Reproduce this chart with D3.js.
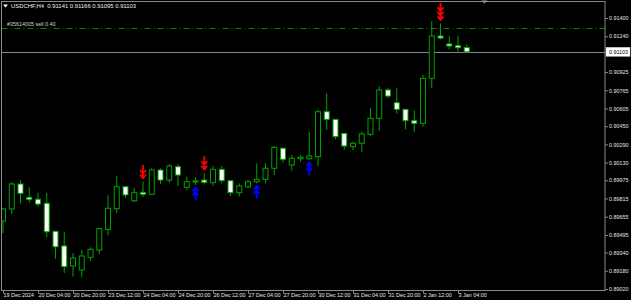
<!DOCTYPE html>
<html>
<head>
<meta charset="utf-8">
<script src="https://cdn.jsdelivr.net/npm/d3@7"></script>
<style>
  html, body { margin: 0; padding: 0; background: #000; }
  svg { display: block; }
  text { font-family: "Liberation Sans", Arial, sans-serif; white-space: pre; }
</style>
</head>
<body>
<svg id="chart" width="631" height="300"></svg>
<script>
const times = ["19 Dec 12:00","19 Dec 16:00","19 Dec 20:00",
  "20 Dec 00:00","20 Dec 04:00","20 Dec 08:00","20 Dec 12:00","20 Dec 16:00","20 Dec 20:00",
  "23 Dec 00:00","23 Dec 04:00","23 Dec 08:00","23 Dec 12:00","23 Dec 16:00","23 Dec 20:00",
  "24 Dec 00:00","24 Dec 04:00","24 Dec 08:00","24 Dec 12:00","24 Dec 16:00","24 Dec 20:00",
  "26 Dec 00:00","26 Dec 04:00","26 Dec 08:00","26 Dec 12:00","26 Dec 16:00","26 Dec 20:00",
  "27 Dec 00:00","27 Dec 04:00","27 Dec 08:00","27 Dec 12:00","27 Dec 16:00","27 Dec 20:00",
  "30 Dec 00:00","30 Dec 04:00","30 Dec 08:00","30 Dec 12:00","30 Dec 16:00","30 Dec 20:00",
  "31 Dec 00:00","31 Dec 04:00","31 Dec 08:00","31 Dec 12:00","31 Dec 16:00","31 Dec 20:00",
  "2 Jan 00:00","2 Jan 04:00","2 Jan 08:00","2 Jan 12:00","2 Jan 16:00","2 Jan 20:00",
  "3 Jan 00:00","3 Jan 04:00","3 Jan 08:00"];

const open = [0.89617,0.89723,0.89942,0.89825,0.89808,0.89773,0.89527,0.89398,0.89222,0.89187,
  0.89298,0.89362,0.89544,0.89725,0.89918,0.89795,0.89869,0.89852,0.90065,0.89977,
  0.90094,0.89913,0.89960,0.89977,0.89954,0.90071,0.89971,0.89866,0.89918,0.89962,
  0.89983,0.90080,0.90256,0.90109,0.90164,0.90164,0.90182,0.90577,0.90510,0.90387,
  0.90270,0.90300,0.90379,0.90519,0.90768,0.90656,0.90598,0.90498,0.90475,0.90870,
  0.91242,0.91172,0.91157,0.91141];
const high = [0.89731,0.89960,0.89977,0.89913,0.89866,0.89866,0.89530,0.89523,0.89334,0.89362,
  0.89386,0.89556,0.89843,0.90012,0.89920,0.89907,0.89964,0.90080,0.90080,0.90118,
  0.90118,0.90006,0.90001,0.90041,0.90100,0.90100,0.89977,0.89948,0.89977,0.90124,
  0.90124,0.90276,0.90264,0.90197,0.90197,0.90401,0.90598,0.90739,0.90513,0.90390,
  0.90314,0.90401,0.90607,0.90803,0.90783,0.90783,0.90600,0.90588,0.90899,0.91374,
  0.91353,0.91245,0.91245,0.91166];
const low = [0.89512,0.89679,0.89773,0.89778,0.89743,0.89474,0.89286,0.89160,0.89128,0.89123,
  0.89269,0.89327,0.89492,0.89690,0.89817,0.89784,0.89828,0.89846,0.89942,0.89954,
  0.89925,0.89889,0.89933,0.89938,0.89925,0.89948,0.89837,0.89831,0.89904,0.89948,
  0.89948,0.90021,0.90129,0.90059,0.90138,0.90153,0.90100,0.90416,0.90335,0.90247,
  0.90241,0.90226,0.90364,0.90410,0.90695,0.90563,0.90423,0.90399,0.90445,0.90783,
  0.91213,0.91125,0.91090,0.91095];
const close = [0.89723,0.89942,0.89860,0.89808,0.89766,0.89523,0.89391,0.89216,0.89292,0.89310,
  0.89369,0.89550,0.89729,0.89918,0.89846,0.89866,0.89852,0.90065,0.89977,0.90100,
  0.90021,0.89962,0.89969,0.89957,0.90071,0.89971,0.89866,0.89925,0.89962,0.89983,
  0.90080,0.90264,0.90159,0.90168,0.90177,0.90188,0.90577,0.90510,0.90358,0.90276,
  0.90300,0.90381,0.90519,0.90768,0.90715,0.90598,0.90498,0.90475,0.90870,0.91242,
  0.91224,0.91154,0.91139,0.91103];

const yTickValues = [0.91400,0.91240,0.90925,0.90765,0.90605,0.90450,0.90290,0.90130,
  0.89975,0.89815,0.89655,0.89495,0.89340,0.89180,0.89020];
const xTickKeys = ["19 Dec 12:00","20 Dec 04:00","20 Dec 20:00","23 Dec 12:00","24 Dec 04:00",
  "24 Dec 20:00","26 Dec 12:00","27 Dec 04:00","27 Dec 20:00","30 Dec 12:00","31 Dec 04:00",
  "31 Dec 20:00","2 Jan 12:00","3 Jan 04:00"];
const xTickLabels = ["19 Dec 2024","20 Dec 04:00","20 Dec 20:00","23 Dec 12:00","24 Dec 04:00",
  "24 Dec 20:00","26 Dec 12:00","27 Dec 04:00","27 Dec 20:00","30 Dec 12:00","31 Dec 04:00",
  "31 Dec 20:00","2 Jan 12:00","3 Jan 04:00"];

const sellBars = [16, 23, 50];
const sellChevrons = [2, 2, 3];
const buyBars = [22, 29, 35];

const symbolTitle = "USDCHF,H4  0.91141 0.91166 0.91095 0.91103";
const currentPrice = 0.91103;
const orderPrice = 0.91312;
const orderLabel = "#35614005 sell 0.40";

// ---------- drawing ----------
const W = 631, H = 300;
const plot = {left: 1.5, top: 1, right: 605, bottom: 290.5};
const GREEN = "#00a400";
const FS = 5.4;

const svg = d3.select("#chart");
svg.append("rect").attr("width", W).attr("height", H).attr("fill", "#000");

const x = d3.scalePoint().domain(times).range([3, 3 + 8.75 * (times.length - 1)]);
const y = d3.scaleLinear().domain([0.89020, 0.91400]).range([289, 18]);

svg.append("clipPath").attr("id", "pc")
  .append("rect").attr("x", plot.left).attr("y", plot.top)
  .attr("width", plot.right - plot.left).attr("height", plot.bottom - plot.top);
const pg = svg.append("g").attr("clip-path", "url(#pc)");

// order line (dash-dot)
pg.append("line")
  .attr("x1", plot.left).attr("x2", plot.right)
  .attr("y1", Math.round(y(orderPrice)) + 0.5).attr("y2", Math.round(y(orderPrice)) + 0.5)
  .attr("stroke", "#008a00").attr("stroke-width", 1).attr("stroke-dasharray", "6,3,1,3");

// current price line
pg.append("line")
  .attr("x1", plot.left).attr("x2", plot.right)
  .attr("y1", Math.round(y(currentPrice)) + 0.5).attr("y2", Math.round(y(currentPrice)) + 0.5)
  .attr("stroke", "#7a8796").attr("stroke-width", 1);

const bars = times.map((t, i) => ({t, o: open[i], h: high[i], l: low[i], c: close[i]}));

// wicks
pg.selectAll("line.wick").data(bars).enter().append("line")
  .attr("class", "wick")
  .attr("x1", d => x(d.t)).attr("x2", d => x(d.t))
  .attr("y1", d => y(d.h)).attr("y2", d => y(d.l))
  .attr("stroke", GREEN).attr("stroke-width", 1);

// bodies
pg.selectAll("rect.body").data(bars).enter().append("rect")
  .attr("class", "body")
  .attr("x", d => x(d.t) - 2.5)
  .attr("width", 5)
  .attr("y", d => y(Math.max(d.o, d.c)))
  .attr("height", d => Math.max(1, y(Math.min(d.o, d.c)) - y(Math.max(d.o, d.c))))
  .attr("fill", d => d.c >= d.o ? "#000" : "#fff")
  .attr("stroke", GREEN).attr("stroke-width", 1);

// arrows
function chevronPath(cx, yStart, n, dir) {
  const len = 5 + n * 4;
  let p = "";
  if (dir === 1) {
    p += `M${cx},${yStart - len}L${cx},${yStart}`;
    for (let k = 0; k < n; k++) {
      const ty = yStart - k * 4.5;
      p += `M${cx - 3},${ty - 3.5}L${cx},${ty}L${cx + 3},${ty - 3.5}`;
    }
  } else {
    p += `M${cx},${yStart}L${cx},${yStart + len}`;
    for (let k = 0; k < n; k++) {
      const ty = yStart + k * 4.5;
      p += `M${cx - 3},${ty + 3.5}L${cx},${ty}L${cx + 3},${ty + 3.5}`;
    }
  }
  return p;
}
pg.selectAll("path.sell").data(sellBars).enter().append("path")
  .attr("class", "sell")
  .attr("d", (b, i) => chevronPath(x(times[b]), y(high[b]) - 3.5, sellChevrons[i], 1))
  .attr("fill", "none").attr("stroke", "#ff0000").attr("stroke-width", 1.8);
pg.selectAll("path.buy").data(buyBars).enter().append("path")
  .attr("class", "buy")
  .attr("d", b => chevronPath(x(times[b]), y(low[b]) + 2.5, 2, -1))
  .attr("fill", "none").attr("stroke", "#0000ff").attr("stroke-width", 1.8);

// frame
svg.append("rect")
  .attr("x", plot.left).attr("y", plot.top + 0.5)
  .attr("width", plot.right - plot.left).attr("height", plot.bottom - plot.top - 0.5)
  .attr("fill", "none").attr("stroke", "#8a8a8a").attr("stroke-width", 1);

// y axis
const yAxis = d3.axisRight(y).tickValues(yTickValues)
  .tickFormat(d3.format(".5f")).tickSize(3).tickPadding(1);
const ya = svg.append("g").attr("transform", `translate(${plot.right},0)`).call(yAxis);
ya.select(".domain").remove();
ya.selectAll("line").attr("stroke", "#8a8a8a");
ya.selectAll("text").attr("fill", "#e6e6e6").attr("font-size", FS)
  .attr("font-family", "Liberation Sans, Arial, sans-serif");

// current price box
const cpy = y(currentPrice);
svg.append("rect").attr("x", 606).attr("y", cpy - 4.5).attr("width", 24).attr("height", 9)
  .attr("fill", "#fff").attr("stroke", "#ccc").attr("stroke-width", 0.5);
svg.append("text").attr("x", 609).attr("y", cpy + 2).attr("font-size", FS)
  .attr("fill", "#000").text(d3.format(".5f")(currentPrice));

// x axis
const xAxis = d3.axisBottom(x).tickValues(xTickKeys)
  .tickFormat((d, i) => xTickLabels[i]).tickSize(3).tickPadding(1);
const xa = svg.append("g").attr("transform", `translate(0,${plot.bottom})`).call(xAxis);
xa.select(".domain").remove();
xa.selectAll("line").attr("stroke", "#8a8a8a");
xa.selectAll("text").attr("fill", "#e6e6e6").attr("font-size", FS)
  .attr("font-family", "Liberation Sans, Arial, sans-serif")
  .attr("text-anchor", "start").attr("dx", 0).attr("dy", "0.55em");

// title and icon
svg.append("path").attr("d", "M3,4.5L8,4.5L5.5,7.5Z").attr("fill", "#fff");
svg.append("text").attr("x", 11).attr("y", 8).attr("font-size", 5.9).attr("fill", "#f0f0f0")
  .attr("xml:space", "preserve").text(symbolTitle);

// order label
svg.append("text").attr("x", 7).attr("y", 25.5).attr("font-size", FS).attr("fill", "#d0d0d0")
  .text(orderLabel);

// chart shift marker
svg.append("path").attr("d", "M481.5,0.5L487.5,0.5L484.5,3.5Z").attr("fill", "#8899aa");
</script>
</body>
</html>
